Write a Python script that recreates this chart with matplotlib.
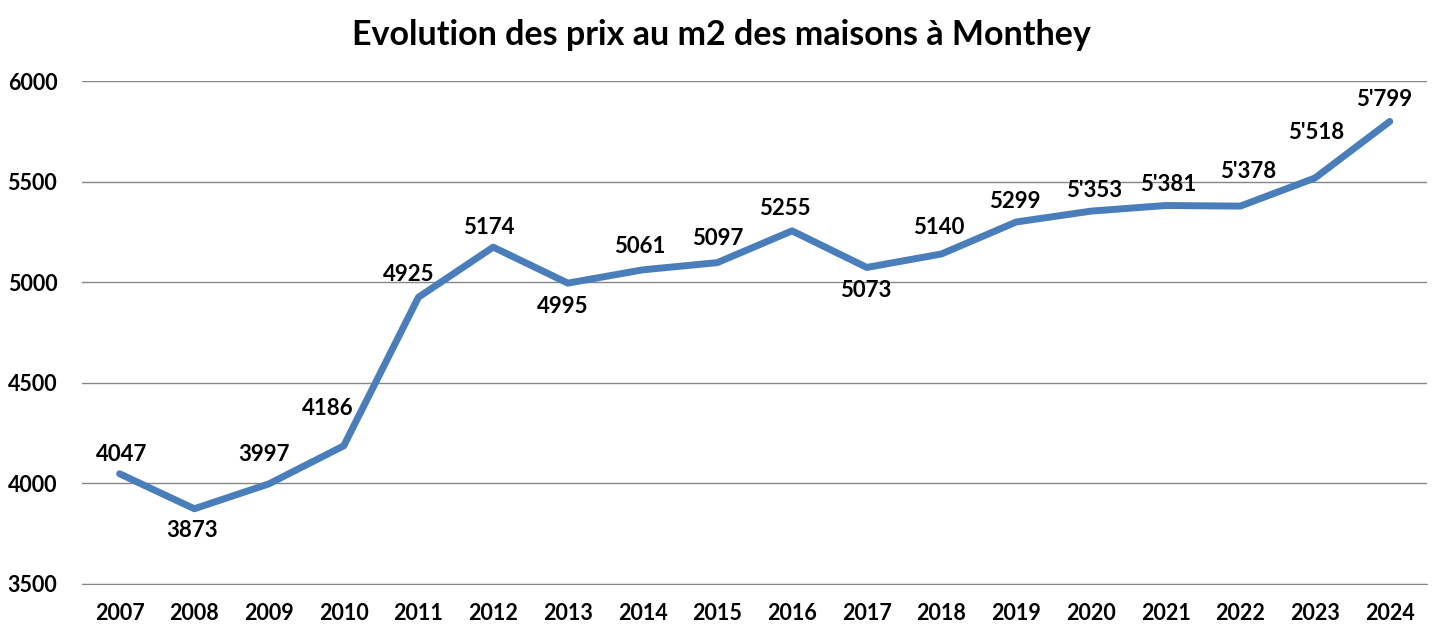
import matplotlib.pyplot as plt

years = ['2007', '2008', '2009', '2010', '2011', '2012', '2013', '2014', '2015',
         '2016', '2017', '2018', '2019', '2020', '2021', '2022', '2023', '2024']
prices = [4047, 3873, 3997, 4186, 4925, 5174, 4995, 5061, 5097,
          5255, 5073, 5140, 5299, 5353, 5381, 5378, 5518, 5799]
labels = ['4047', '3873', '3997', '4186', '4925', '5174', '4995', '5061', '5097',
          '5255', '5073', '5140', '5299', "5'353", "5'381", "5'378", "5'518", "5'799"]

# label offsets in pixels (dx, dy up), as placed on the original chart
offsets = [(2, 19), (-2, -22), (-5, 29), (-16, 37), (-10, 23), (-4, 20), (-5, -23),
           (-3, 23), (0, 24), (-7, 22), (-1, -23), (-3, 26), (-1, 20), (3, 21),
           (3, 21), (8, 35), (1, 45), (-6, 22)]

plt.rcParams['font.family'] = ['Lato', 'DejaVu Sans']
plt.rcParams['font.weight'] = 'bold'

fig = plt.figure(figsize=(14.43, 6.38), dpi=100)
ax = fig.add_axes([0.057, 0.085, 0.932, 0.788])

x = list(range(len(years)))
ax.plot(x, prices, color='#4a7ebb', lw=5, solid_capstyle='round', solid_joinstyle='round', zorder=3)

px2pt = 72 / 100
for i, (v, lab, (dx, dy)) in enumerate(zip(prices, labels, offsets)):
    ax.annotate(lab, (i, v), xytext=(dx * px2pt, dy * px2pt), textcoords='offset points',
                ha='center', va='center', fontsize=16, fontweight='bold')

ax.set_xlim(-0.5, len(years) - 0.5)
ax.set_ylim(3500, 6000)
ax.set_yticks([3500, 4000, 4500, 5000, 5500, 6000])
ax.set_xticks(x)
ax.set_xticklabels(years)
ax.tick_params(axis='both', length=0, labelsize=15.5)
ax.tick_params(axis='y', pad=18)
ax.tick_params(axis='x', pad=14)
ax.yaxis.grid(True, color='#868686', lw=1)
ax.set_axisbelow(True)
for s in ax.spines.values():
    s.set_visible(False)
ax.spines['bottom'].set_visible(True)
ax.spines['bottom'].set_color('#868686')

fig.text(0.5, 1 - 35 / 638, 'Evolution des prix au m2 des maisons à Monthey',
         ha='center', va='center', fontsize=24.5, fontweight='bold')

fig.savefig('out.png', dpi=100)
